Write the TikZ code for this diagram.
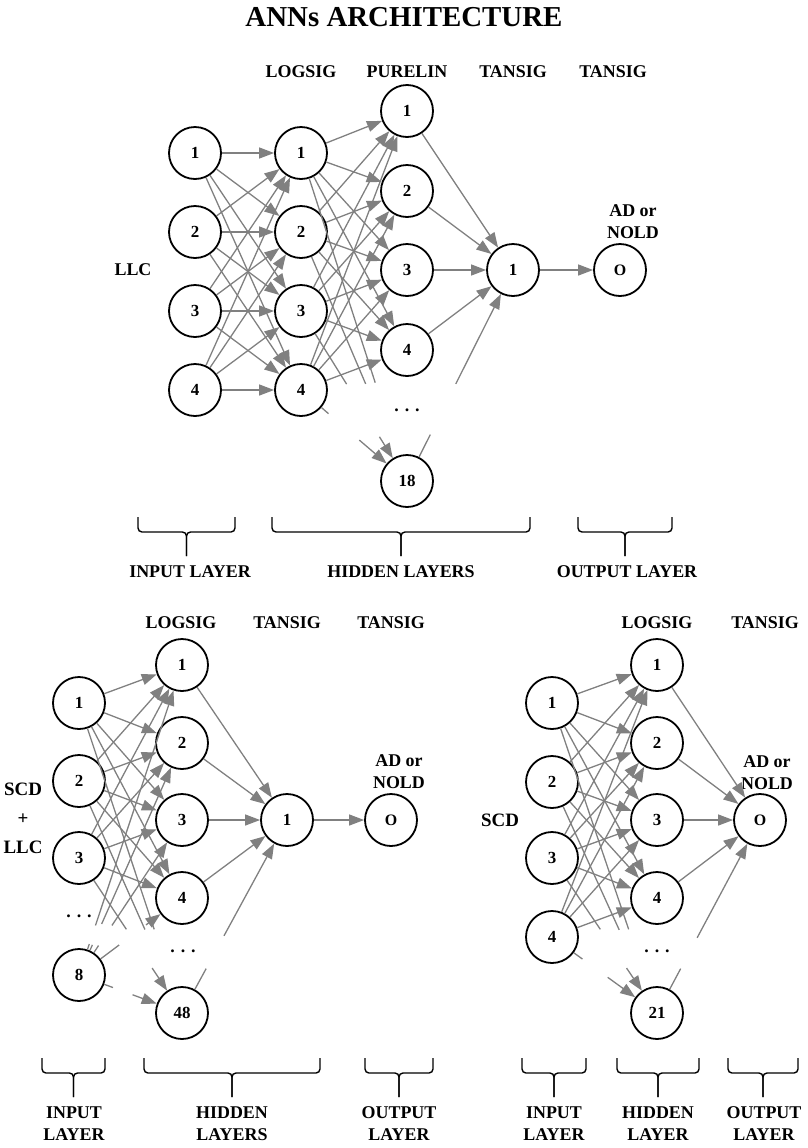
\documentclass[tikz,border=0pt]{standalone}
\usepackage{fontspec}
\setmainfont{Liberation Serif}
\usepackage{tikz}
\usetikzlibrary{arrows.meta,calc}
\definecolor{linkgray}{RGB}{128,128,128}
\tikzstyle{neuron} = [circle, draw, line width=1.8bp, minimum size=52bp, inner sep=0pt, font=\bfseries\fontsize{17}{17}\selectfont]
\tikzstyle{link} = [draw=linkgray, line width=1.3bp]
\tikzstyle{arr} = [link, -{Triangle[length=15bp,width=11bp]}]
\tikzstyle{lab} = [align=center, font=\bfseries\fontsize{18}{22}\selectfont]
\tikzstyle{brace} = [draw, line width=1.4bp, rounded corners=4bp]

\begin{document}
\begin{tikzpicture}[x=1bp, y=-1bp]
   \useasboundingbox (0,0) rectangle (808,1148);
   \node [font=\bfseries\fontsize{29}{29}\selectfont] (title) at (404,17) {ANNs ARCHITECTURE};

   % Top network (LLC)
   \foreach \i/\y in {1/153,2/232,3/311,4/390} {
      \node [neuron] (t-in\i) at (195,\y) {\i};
      \node [neuron] (t-ls\i) at (301,\y) {\i};
   }
   \foreach \i/\y in {1/111,2/191,3/270,4/350,18/481}
      \node [neuron] (t-pl\i) at (407,\y) {\i};
   \node [neuron] (t-ts) at (513,270) {1};
   \node [neuron, font=\bfseries\fontsize{16}{16}\selectfont] (t-out) at (620,270) {O};
   \node [lab] (t-dots) at (407,410) {. . .};
   \node [lab] (t-llc) at (133,270) {LLC};
   \node [lab] (t-ad) at (633,222) {AD or\\NOLD};
   \node [lab] (t-f1) at (301,72) {LOGSIG};
   \node [lab] (t-f2) at (407,72) {PURELIN};
   \node [lab] (t-f3) at (513,72) {TANSIG};
   \node [lab] (t-f4) at (613,72) {TANSIG};
   \foreach \i in {1,...,4} \foreach \j in {1,...,4} \draw[arr] (t-in\i) -- (t-ls\j);
   \foreach \i in {1,...,4} \foreach \j in {1,...,4} \draw[arr] (t-ls\i) -- (t-pl\j);
   \foreach \j in {1,...,4} \draw[arr] (t-pl\j) -- (t-ts);
   \draw[arr] (t-ts) -- (t-out);
   % links of node 18 fade out behind the dots
   \foreach \i/\f in {1/0.70,2/0.61,3/0.43,4/0.26} \draw[link] (t-ls\i) -- ($(t-ls\i)!\f!(t-pl18)$);
   \foreach \i/\f in {3/0.74,4/0.55} \draw[arr] ($(t-ls\i)!\f!(t-pl18)$) -- (t-pl18);
   \draw[link] (t-pl18) -- ($(t-pl18)!0.22!(t-ts)$);
   \draw[arr] ($(t-pl18)!0.46!(t-ts)$) -- (t-ts);

   % Bottom left network (SCD + LLC)
   \foreach \i/\y in {1/703,2/781,3/858,8/975}
      \node [neuron] (l-in\i) at (79,\y) {\i};
   \foreach \i/\y in {1/665,2/743,3/820,4/898,48/1013}
      \node [neuron] (l-ls\i) at (182,\y) {\i};
   \node [neuron] (l-ts) at (287,820) {1};
   \node [neuron, font=\bfseries\fontsize{16}{16}\selectfont] (l-out) at (391,820) {O};
   \node [lab] (l-dots1) at (79,916) {. . .};
   \node [lab] (l-dots2) at (183,951) {. . .};
   \node [lab, font=\bfseries\fontsize{19}{29}\selectfont] (l-scd) at (23,818) {SCD\\+\\LLC};
   \node [lab] (l-ad) at (399,772) {AD or\\NOLD};
   \node [lab] (l-f1) at (181,623) {LOGSIG};
   \node [lab] (l-f2) at (287,623) {TANSIG};
   \node [lab] (l-f3) at (391,623) {TANSIG};
   \foreach \i in {1,2,3} \foreach \j in {1,...,4} \draw[arr] (l-in\i) -- (l-ls\j);
   \foreach \j in {1,...,4} \draw[arr] (l-ls\j) -- (l-ts);
   \draw[arr] (l-ts) -- (l-out);
   \foreach \i/\f in {1/0.73,2/0.64,3/0.46,8/0.33} \draw[link] (l-in\i) -- ($(l-in\i)!\f!(l-ls48)$);
   \foreach \i/\f in {3/0.71,8/0.52} \draw[arr] ($(l-in\i)!\f!(l-ls48)$) -- (l-ls48);
   \foreach \j/\a/\b in {1/0.10/0.16,2/0.13/0.22,3/0.19/0.32,4/0.39/0.65} {
      \draw[link] (l-in8) -- ($(l-in8)!\a!(l-ls\j)$);
      \draw[arr] ($(l-in8)!\b!(l-ls\j)$) -- (l-ls\j);
   }
   \draw[link] (l-ls48) -- ($(l-ls48)!0.23!(l-ts)$);
   \draw[arr] ($(l-ls48)!0.40!(l-ts)$) -- (l-ts);

   % Bottom right network (SCD)
   \foreach \i/\y in {1/703,2/782,3/858,4/937}
      \node [neuron] (r-in\i) at (552,\y) {\i};
   \foreach \i/\y in {1/665,2/743,3/820,4/898,21/1013}
      \node [neuron] (r-ls\i) at (657,\y) {\i};
   \node [neuron, font=\bfseries\fontsize{16}{16}\selectfont] (r-out) at (760,820) {O};
   \node [lab] (r-dots) at (657,951) {. . .};
   \node [lab, font=\bfseries\fontsize{19}{22}\selectfont] (r-scd) at (500,820) {SCD};
   \node [lab] (r-ad) at (767,773) {AD or\\NOLD};
   \node [lab] (r-f1) at (657,623) {LOGSIG};
   \node [lab] (r-f2) at (765,623) {TANSIG};
   \foreach \i in {1,...,4} \foreach \j in {1,...,4} \draw[arr] (r-in\i) -- (r-ls\j);
   \foreach \j in {1,...,4} \draw[arr] (r-ls\j) -- (r-out);
   \foreach \i/\f in {1/0.73,2/0.64,3/0.46,4/0.29} \draw[link] (r-in\i) -- ($(r-in\i)!\f!(r-ls21)$);
   \foreach \i/\f in {3/0.71,4/0.53} \draw[arr] ($(r-in\i)!\f!(r-ls21)$) -- (r-ls21);
   \draw[link] (r-ls21) -- ($(r-ls21)!0.23!(r-out)$);
   \draw[arr] ($(r-ls21)!0.39!(r-out)$) -- (r-out);

   % Layer braces
   \foreach \xa/\xb/\yt in {138/235/517,272/530/517,578/672/517,42/105/1058,144/320/1058,365/433/1058,522/586/1058,617/699/1058,728/798/1058} {
      \draw[brace] (\xa,\yt) -- (\xa,\yt+15) -- ({(\xa+\xb)/2},\yt+15) -- ({(\xa+\xb)/2},\yt+39);
      \draw[brace] (\xb,\yt) -- (\xb,\yt+15) -- ({(\xa+\xb)/2},\yt+15) -- ({(\xa+\xb)/2},\yt+39);
   }
   \node [lab] (t-b1) at (190,572) {INPUT LAYER};
   \node [lab] (t-b2) at (401,572) {HIDDEN LAYERS};
   \node [lab] (t-b3) at (627,572) {OUTPUT LAYER};
   \node [lab] (l-b1) at (74,1124) {INPUT\\LAYER};
   \node [lab] (l-b2) at (232,1124) {HIDDEN\\LAYERS};
   \node [lab] (l-b3) at (399,1124) {OUTPUT\\LAYER};
   \node [lab] (r-b1) at (554,1124) {INPUT\\LAYER};
   \node [lab] (r-b2) at (658,1124) {HIDDEN\\LAYER};
   \node [lab] (r-b3) at (764,1124) {OUTPUT\\LAYER};
\end{tikzpicture}
\end{document}
